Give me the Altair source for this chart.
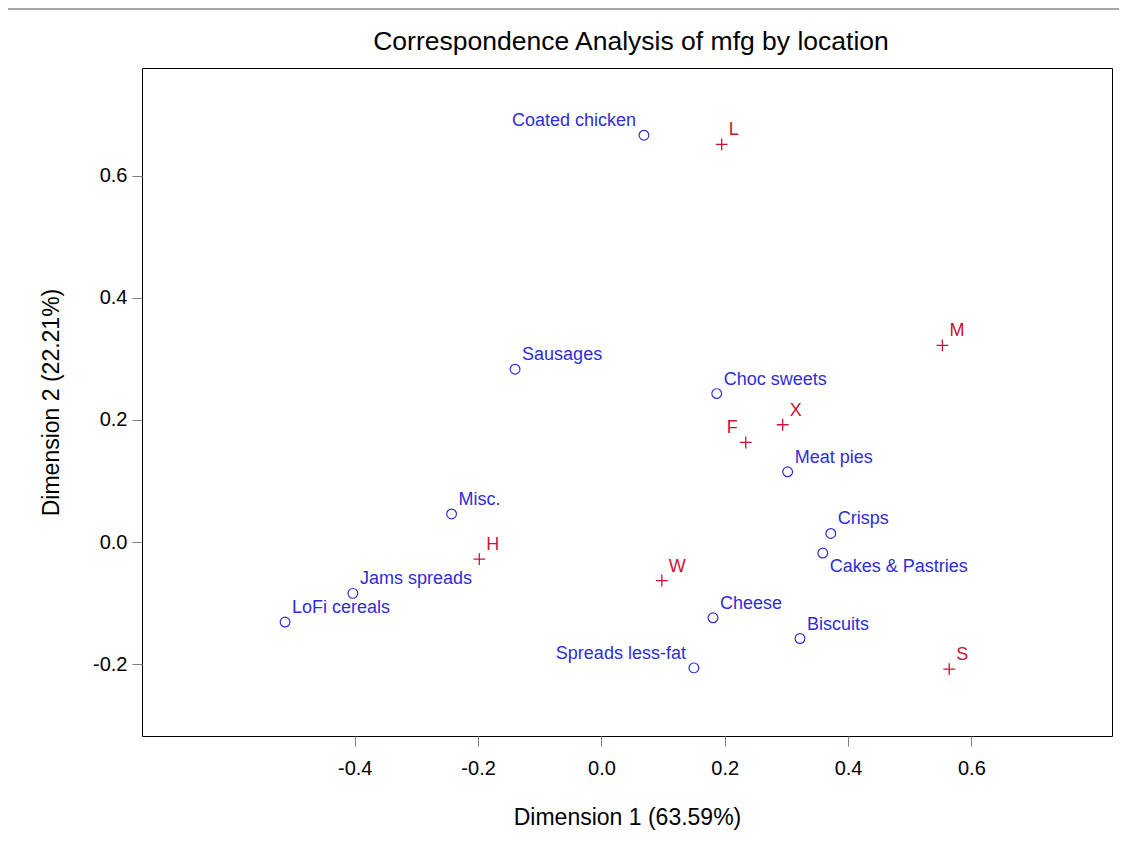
import altair as alt
import pandas as pd

# Product (row) coordinates
products = ["Coated chicken", "Sausages", "Choc sweets", "Meat pies", "Misc.",
            "Crisps", "Cakes & Pastries", "Jams spreads", "LoFi cereals",
            "Cheese", "Biscuits", "Spreads less-fat"]
prod_d1 = [0.069, -0.140, 0.187, 0.302, -0.243, 0.372, 0.359, -0.403, -0.513,
           0.181, 0.322, 0.150]
prod_d2 = [0.666, 0.283, 0.243, 0.115, 0.046, 0.014, -0.018, -0.084, -0.131,
           -0.124, -0.158, -0.206]

# Location (column) coordinates
locations = ["L", "M", "X", "F", "H", "W", "S"]
loc_d1 = [0.195, 0.553, 0.294, 0.234, -0.198, 0.098, 0.564]
loc_d2 = [0.651, 0.322, 0.192, 0.163, -0.028, -0.063, -0.208]

x_ticks = [-0.4, -0.2, 0.0, 0.2, 0.4, 0.6]
y_ticks = [-0.2, 0.0, 0.2, 0.4, 0.6]

title_text = "Correspondence Analysis of mfg by location"

# label placement groups
left_labels = ["Coated chicken", "Spreads less-fat", "F"]
below_labels = ["Cakes & Pastries"]

BLUE = "#2e2ed8"
RED = "#cc1136"
FONT = "Liberation Sans"

pdf = pd.DataFrame({"name": products, "d1": prod_d1, "d2": prod_d2})
ldf = pd.DataFrame({"name": locations, "d1": loc_d1, "d2": loc_d2})

label_expr = "datum.value < 0 ? '-' + format(-datum.value, '.1f') : format(datum.value, '.1f')"

xs = alt.Scale(domain=[-0.745, 0.828], nice=False, zero=False)
ys = alt.Scale(domain=[-0.3175, 0.776], nice=False, zero=False)

xenc = alt.X("d1:Q", scale=xs,
             axis=alt.Axis(values=x_ticks, labelExpr=label_expr,
                           title="Dimension 1 (63.59%)", titleY=88,
                           titleBaseline="alphabetic"))
yenc = alt.Y("d2:Q", scale=ys,
             axis=alt.Axis(values=y_ticks, labelExpr=label_expr,
                           title="Dimension 2 (22.21%)", titleX=-84,
                           titleBaseline="alphabetic"))

base_p = alt.Chart(pdf).encode(x=xenc, y=yenc)
base_l = alt.Chart(ldf).encode(x=xenc, y=yenc)

circles = base_p.mark_point(shape="circle", filled=False, color=BLUE,
                            size=95, strokeWidth=1.2, opacity=1)
crosses = base_l.mark_point(shape="M-1,0H1M0,-1V1", filled=False, color=RED,
                            size=140, strokeWidth=1.3, opacity=1)

not_special = f"indexof({left_labels + below_labels}, datum.name) < 0"
is_left = f"indexof({left_labels}, datum.name) >= 0"
is_below = f"indexof({below_labels}, datum.name) >= 0"

def labels(base, color):
    ur = base.transform_filter(not_special).mark_text(
        align="left", baseline="alphabetic", dx=7, dy=-9, fontSize=18,
        font=FONT, color=color).encode(text="name:N")
    ul = base.transform_filter(is_left).mark_text(
        align="right", baseline="alphabetic", dx=-8, dy=-9, fontSize=18,
        font=FONT, color=color).encode(text="name:N")
    lr = base.transform_filter(is_below).mark_text(
        align="left", baseline="alphabetic", dx=7, dy=19, fontSize=18,
        font=FONT, color=color).encode(text="name:N")
    return ur + ul + lr

top_line = alt.Chart(pd.DataFrame({"a": [0]})).mark_rule(
    color="#8a8a8a", strokeWidth=1.5).encode(
    x=alt.value(-134), x2=alt.value(977), y=alt.value(-59))

title = alt.Chart(pd.DataFrame({"t": [title_text]})).mark_text(
    font=FONT, fontSize=26.5, color="black", align="center",
    baseline="alphabetic").encode(
    text="t:N", x=alt.value(489), y=alt.value(-18))

chart = alt.layer(
    top_line, title, circles, crosses, labels(base_p, BLUE), labels(base_l, RED)
).properties(
    width=970, height=668,
    autosize=alt.AutoSizeParams(type="none"),
    padding={"left": 134, "top": 60, "right": 7, "bottom": 101},
).configure_view(
    stroke="black", strokeWidth=1
).configure_axis(
    domain=False, grid=False, ticks=True, tickColor="#808080", tickWidth=1,
    labelFont=FONT, labelFontSize=20, labelColor="black",
    titleFont=FONT, titleFontSize=23, titleFontWeight="normal", titleColor="black"
).configure_axisX(
    tickSize=10, labelPadding=12
).configure_axisY(
    tickSize=10, labelPadding=5
)

chart.save("out.html", embed_options={"renderer": "svg", "actions": False})
